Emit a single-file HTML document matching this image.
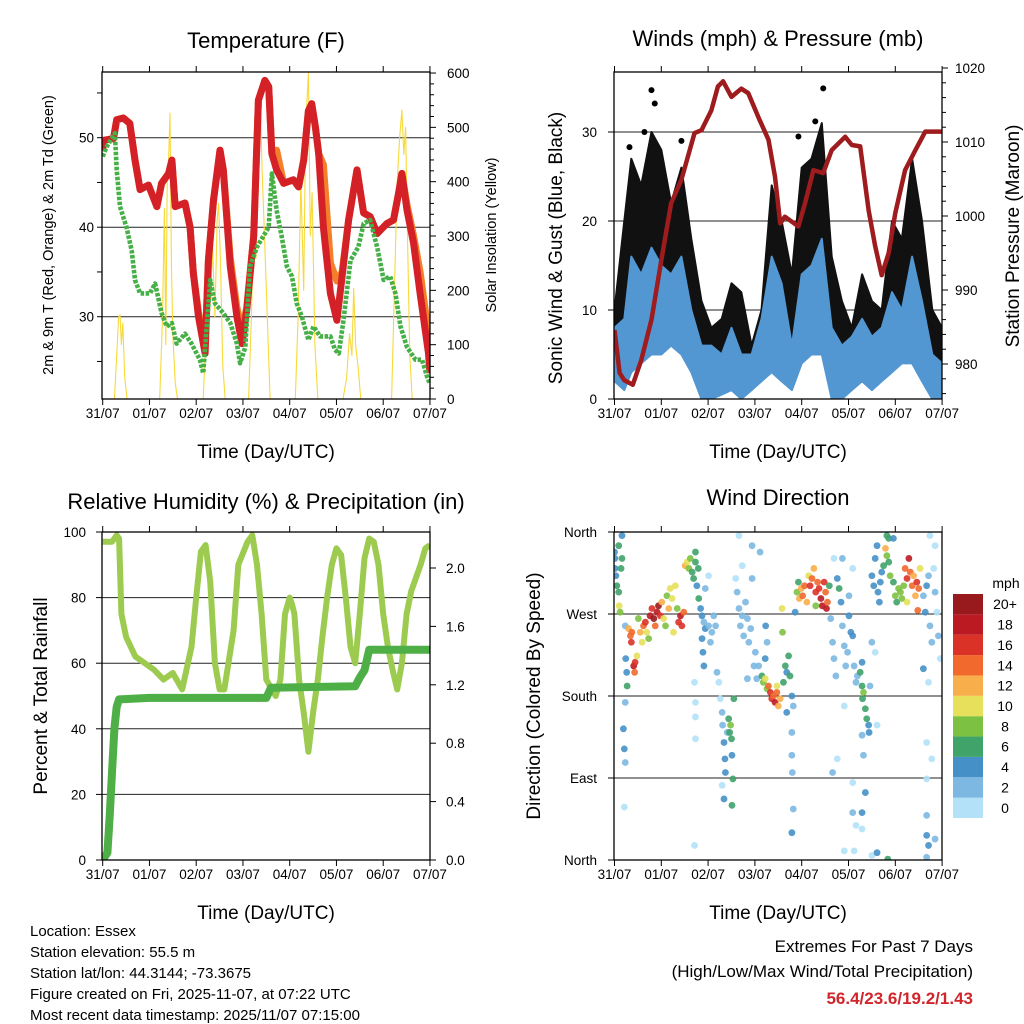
<!DOCTYPE html>
<html><head><meta charset="utf-8"><title>Weather station charts</title>
<style>
html,body{margin:0;padding:0;background:#fff;}
svg{display:block;font-family:"Liberation Sans",Arial,sans-serif;}
</style></head>
<body>
<svg id="chart" width="1024" height="1024" viewBox="0 0 1024 1024" xmlns="http://www.w3.org/2000/svg">
<rect width="1024" height="1024" fill="#fff"/>
<defs>
<clipPath id="cT"><rect x="102" y="72" width="328" height="327"/></clipPath>
<clipPath id="cW"><rect x="614" y="72" width="328" height="327"/></clipPath>
<clipPath id="cR"><rect x="102" y="532" width="328" height="328"/></clipPath>
<clipPath id="cD"><rect x="614" y="532" width="328" height="328"/></clipPath>
</defs>
<text x="266" y="48" font-size="22" text-anchor="middle">Temperature (F)</text>
<text x="778" y="46" font-size="22" text-anchor="middle">Winds (mph) &amp; Pressure (mb)</text>
<text x="266" y="509" font-size="22" text-anchor="middle">Relative Humidity (%) &amp; Precipitation (in)</text>
<text x="778" y="505" font-size="22" text-anchor="middle">Wind Direction</text>
<text x="266" y="458" font-size="19" text-anchor="middle">Time (Day/UTC)</text>
<text x="778" y="458" font-size="19" text-anchor="middle">Time (Day/UTC)</text>
<text x="266" y="919" font-size="19" text-anchor="middle">Time (Day/UTC)</text>
<text x="778" y="919" font-size="19" text-anchor="middle">Time (Day/UTC)</text>
<text transform="translate(53,235) rotate(-90)" font-size="14.5" text-anchor="middle">2m &amp; 9m T (Red, Orange) &amp; 2m Td (Green)</text>
<text transform="translate(496,235) rotate(-90)" font-size="14.5" text-anchor="middle">Solar Insolation (Yellow)</text>
<text transform="translate(562,248) rotate(-90)" font-size="19" text-anchor="middle">Sonic Wind &amp; Gust (Blue, Black)</text>
<text transform="translate(1019,236) rotate(-90)" font-size="19" text-anchor="middle">Station Pressure (Maroon)</text>
<text transform="translate(47,696) rotate(-90)" font-size="19" text-anchor="middle">Percent &amp; Total Rainfall</text>
<text transform="translate(540,696) rotate(-90)" font-size="19" text-anchor="middle">Direction (Colored By Speed)</text>
<g font-size="15">
<text x="30" y="936">Location: Essex</text>
<text x="30" y="957">Station elevation: 55.5 m</text>
<text x="30" y="978">Station lat/lon: 44.3144; -73.3675</text>
<text x="30" y="999">Figure created on Fri, 2025-11-07, at 07:22 UTC</text>
<text x="30" y="1020">Most recent data timestamp: 2025/11/07 07:15:00</text>
</g>
<text x="973" y="952" font-size="17" text-anchor="end">Extremes For Past 7 Days</text>
<text x="973" y="977" font-size="17" text-anchor="end">(High/Low/Max Wind/Total Precipitation)</text>
<text x="973" y="1004" font-size="17" font-weight="bold" fill="#d0262b" text-anchor="end">56.4/23.6/19.2/1.43</text>
<text x="1006" y="588" font-size="14" text-anchor="middle">mph</text>
</svg>
<script>
// ---------- data ----------
const dayLabels = ['31/07','01/07','02/07','03/07','04/07','05/07','06/07','07/07'];
const tempTicks = [30,40,50];
const solarTicks = [0,100,200,300,400,500,600];
const windTicks = [0,10,20,30];
const presTicks = [980,990,1000,1010,1020];
const rhTicks = [0,20,40,60,80,100];
const prcTicks = ['0.0','0.4','0.8','1.2','1.6','2.0'];
const dirTickNames = ['North','East','South','West','North'];
const speedBinLabels = ['0','2','4','6','8','10','12','14','16','18','20+'];
const speedBinColors = ['#b3e2f8','#7cb8e2','#4690c8','#3fa36a','#7dc143','#e6e05a','#f8ae4a','#f1692c','#db3228','#bb1a22','#981a1d'];

const tempT = [0,0.01,0.23,0.30,0.44,0.58,0.69,0.80,0.98,1.16,1.26,1.41,1.48,1.55,1.76,1.87,1.94,2.05,2.19,2.26,2.37,2.51,2.58,2.73,2.87,2.98,3.08,3.23,3.33,3.47,3.55,3.62,3.72,3.87,4.08,4.19,4.30,4.40,4.47,4.55,4.62,4.72,4.87,5.01,5.12,5.26,5.44,5.58,5.72,5.87,6.08,6.22,6.33,6.40,6.51,6.65,6.79,6.97,7.0];
const tempRed = [48.5,49.7,49.9,52,52.2,51.6,47.5,44.2,44.7,42.3,44.9,46,47.5,42.3,42.7,40,34.8,30,25.9,36.3,43,48.6,46.4,35.6,30,27,30.7,39,54.2,56.4,55.7,48.2,46.4,44.9,45.3,44.5,47.5,53,53.8,51.2,48.2,40,32.6,29.6,34.5,40.8,46.4,41.6,41.2,39.3,40.4,40.8,43.8,46,41.9,38.2,32.6,25.9,23.7];
const tempOrange = [48.5,49.7,49.9,52,52.2,51.6,47.5,44.2,44.7,42.3,44.9,46,47.5,42.3,42.7,40,34.8,30.5,26.5,36.3,43,48.6,46.4,36.5,31,28.5,31,39,54.2,56.4,55.7,48.2,48.6,44.9,45.3,44.5,47.5,53,53.8,51.2,48.2,47,36,34,35,40.8,46.4,41.6,41.2,39.3,40.4,40.8,43.8,46,42.5,39,35,28,24.5];
const dewT = [0,0.085,0.26,0.30,0.37,0.51,0.62,0.69,0.80,1.01,1.12,1.26,1.37,1.48,1.58,1.76,1.90,2.08,2.15,2.30,2.40,2.58,2.73,2.87,2.94,3.05,3.15,3.30,3.47,3.55,3.62,3.72,3.83,3.94,4.05,4.15,4.26,4.40,4.51,4.65,4.87,4.97,5.05,5.15,5.30,5.47,5.58,5.72,5.87,6.01,6.15,6.26,6.37,6.51,6.69,6.83,6.94,7.0];
const dew = [47.9,49,50.5,46.4,42.3,40,37.4,34.1,32.6,32.6,33.7,30.4,28.9,29.3,27,28.1,27,25.2,23.7,34.1,31.5,30.4,29.3,27,24.8,26.6,35.6,37.8,39.3,40,46,41.9,38.9,35.6,34.5,31.5,30,27.4,28.9,27.8,27.8,26.3,25.9,29.6,36.3,37.8,40.4,40.8,37.8,34.1,34.5,32.6,28.9,26.6,25.2,25.2,23.3,22.5];
const solarT = [0,0.25,0.30,0.34,0.37,0.40,0.43,0.47,0.52,1.22,1.28,1.32,1.35,1.38,1.41,1.44,1.47,1.50,1.55,1.60,2.15,2.20,2.25,2.30,2.35,2.40,2.45,2.48,2.52,2.57,2.62,3.12,3.18,3.24,3.28,3.32,3.37,3.41,3.46,3.52,3.58,4.12,4.18,4.24,4.30,4.34,4.40,4.44,4.48,4.54,4.60,5.14,5.22,5.28,5.33,5.37,5.41,5.46,5.52,6.18,6.24,6.30,6.35,6.40,6.44,6.48,6.52,6.57,6.62,7.0];
const solar = [0,0,80,150,155,100,140,40,0,0,150,350,100,400,440,526,250,120,30,0,0,100,200,180,280,150,330,360,250,60,0,0,150,380,260,500,563,420,300,150,0,0,150,400,200,500,600,300,380,100,0,0,40,120,80,204,100,60,0,0,200,400,480,532,450,500,300,80,0,0];

const windT = [0,0.21,0.36,0.57,0.79,1.0,1.21,1.43,1.64,1.86,2.07,2.29,2.5,2.71,2.93,3.14,3.36,3.57,3.79,4.0,4.21,4.43,4.64,4.86,5.07,5.29,5.5,5.71,5.93,6.14,6.36,6.57,6.79,7.0];
const windLo = [2,1,3,4,5,5,6,5,3,0,0,0.5,1,0,1,2,3,2,1,4,5,5,0,0,1,2,1,2,3,4,4,2,0,0];
const windHi = [8,9,16,14,17,15,14,16,10,6,6,5,8,5,5,9,16,13,6,14,15,18,8,6,7,9,7,8,12,10,16,11,5,4];
const gustHi = [10,20,27,24,30,28,22,26,18,11,8,9,13,12,6,10,24,20,14,26,27,31,16,11,8,14,11,10,20,18,27,20,10,8];
const gustOutT = [0.79,0.86,4.46,4.29,0.64,1.43,3.93,0.32];
const gustOutV = [34.7,33.2,34.9,31.2,30,29,29.5,28.3];
const presT = [0,0.11,0.21,0.39,0.57,0.79,1.0,1.21,1.43,1.71,1.86,2.07,2.21,2.32,2.5,2.71,2.86,3.07,3.29,3.43,3.54,3.64,3.93,4.07,4.25,4.46,4.64,4.93,5.07,5.25,5.43,5.57,5.71,5.86,6.0,6.21,6.43,6.64,7.0];
const pres = [984.6,978.8,977.8,977.2,980.5,986,994,1001.7,1004.9,1011.2,1011.6,1014.3,1017.5,1018.2,1016.1,1017.2,1016.6,1013.4,1010.3,1005.3,999,999.9,998.6,1001.7,1006.2,1005.8,1008.9,1010.7,1009.6,1009.4,1000.8,995.9,992,995,1000.4,1006.2,1008.9,1011.4,1011.4];

const rhT = [0,0.2,0.3,0.35,0.4,0.5,0.7,0.9,1.1,1.3,1.5,1.7,1.9,2.0,2.1,2.2,2.3,2.4,2.5,2.6,2.8,2.9,3.1,3.2,3.3,3.4,3.5,3.7,3.8,3.9,4.0,4.05,4.1,4.2,4.3,4.4,4.5,4.6,4.7,4.8,4.9,5.0,5.1,5.2,5.3,5.4,5.5,5.6,5.7,5.8,5.9,6.0,6.1,6.2,6.3,6.4,6.5,6.6,6.8,6.9,7.0];
const rh = [97,97,99,98,75,68,62,60,58,55,57,52,65,80,94,96,85,60,52,52,70,90,97,99,90,75,55,50,55,75,80,78,75,55,45,33,45,55,68,80,90,95,93,80,65,60,75,92,98,97,90,75,65,58,52,60,75,82,90,95,96];
const prcT = [0,0.1,0.15,0.2,0.25,0.3,0.35,1.0,3.5,3.6,5.4,5.5,5.6,5.7,7.0];
const prc = [0,0.05,0.3,0.6,0.9,1.05,1.1,1.11,1.11,1.18,1.19,1.25,1.3,1.44,1.44];

const dirT = [0,0.01,0.03,0.05,0.09,0.10,0.12,0.14,0.16,0.01,0.09,0.16,0.23,0.19,0.21,0.23,0.21,
0.23,0.24,0.26,0.27,0.30,0.34,0.36,0.37,0.41,0.43,0.44,0.48,0.51,0.55,0.59,0.62,0.66,0.69,0.73,
0.76,0.80,0.84,0.87,0.91,0.94,0.98,1.01,1.05,1.09,1.12,1.16,1.19,1.23,1.26,1.30,1.34,1.37,1.41,1.44,1.48,1.51,1.55,1.59,
1.62,1.66,1.69,1.73,1.76,1.79,1.73,
1.80,1.84,1.87,1.91,1.94,1.87,1.89,1.91,2.01,2.05,2.08,2.12,2.16,2.19,2.23,1.94,2.01,1.71,1.73,1.73,1.73,1.71,
2.26,2.30,2.31,2.34,2.36,2.37,2.41,2.44,2.46,2.48,2.50,2.51,2.53,2.55,2.51,2.30,2.34,
2.59,2.62,2.66,2.69,2.73,2.76,2.80,2.84,2.87,2.91,2.94,2.98,3.01,3.08,3.11,2.73,2.66,2.94,3.04,2.84,
3.15,3.18,3.22,3.26,3.29,3.33,3.36,3.40,3.43,3.47,3.50,3.54,3.47,3.23,3.26,3.22,
3.58,3.59,3.61,3.65,3.68,3.72,3.75,3.79,3.82,3.68,3.79,3.79,3.80,3.82,3.79,
3.86,3.90,3.93,3.95,3.99,4.02,4.06,4.11,4.15,4.18,4.22,4.26,4.30,4.34,4.37,4.41,4.44,4.48,4.51,4.53,4.55,4.30,4.59,
4.62,4.66,4.69,4.73,4.76,4.80,4.84,4.87,4.91,4.94,4.98,5.01,5.05,5.09,5.01,4.87,5.09,4.69,4.91,4.76,4.66,5.12,5.16,5.19,5.09,5.09,5.16,4.91,5.12,
5.25,5.29,5.30,5.32,5.36,5.39,5.43,5.44,5.29,5.32,5.29,5.36,5.29,5.46,5.50,5.57,5.61,5.29,5.50,5.61,
5.50,5.54,5.57,5.61,5.63,5.66,5.68,5.71,5.75,5.79,5.82,5.86,5.89,5.86,5.82,5.96,5.84,
5.96,6.00,6.03,6.07,6.11,6.14,6.18,6.21,6.25,6.29,6.32,6.36,6.39,6.43,6.46,6.50,6.53,6.48,6.25,
6.60,6.64,6.67,6.71,6.74,6.78,6.82,6.85,6.89,6.92,6.96,6.85,6.74,6.71,6.60,6.67,6.78,6.67,6.67,6.67,6.71,6.85,6.67];
const dirDeg = [338,331,312,301,294,279,272,320,331,320,345,356,173,144,122,107,58,
257,221,206,191,254,246,239,250,213,206,217,224,265,250,239,257,261,250,243,
268,276,265,257,272,279,268,283,265,257,290,276,298,287,250,301,276,261,268,257,272,323,327,320,
331,316,309,327,301,320,338,
287,276,268,261,254,243,228,213,257,239,250,268,257,206,195,298,312,195,173,157,133,16,
177,162,148,129,111,96,140,155,140,148,133,115,89,177,60,82,67,
309,294,276,257,268,246,283,265,239,254,309,213,228,213,338,323,356,345,199,199,
202,195,199,188,191,184,177,180,173,184,169,177,191,257,239,221,
276,250,195,213,206,224,202,180,169,162,140,115,96,56,30,
272,294,305,287,298,290,301,283,312,301,309,320,294,305,298,287,279,305,294,276,283,279,301,
265,239,221,202,309,298,283,257,235,213,228,268,250,246,290,331,320,331,169,111,96,213,195,202,85,52,38,10,10,
206,191,177,184,166,155,148,140,217,115,137,74,52,191,239,228,148,34,5,8,
312,301,331,345,294,283,305,316,323,342,334,327,312,353,356,353,1,
305,290,283,298,294,287,301,320,309,331,316,301,312,290,305,298,320,274,283,
290,272,301,312,257,239,320,294,272,246,221,345,356,195,210,129,111,89,49,27,16,23,3];
const dirSpd = [4,4,5,6,7,10,9,6,6,5,6,4,3,4,4,2,1,
2,4,5,6,12,14,16,15,18,14,16,10,8,12,11,14,16,10,8,
18,16,20,15,18,20,16,12,10,8,8,12,10,11,10,10,8,16,18,17,14,12,10,8,
9,7,6,7,4,6,6,
6,4,5,3,4,5,4,4,3,3,3,2,3,2,1,2,1,1,1,0,0,0,
1,2,3,4,4,5,3,6,7,8,6,4,6,6,6,1,4,
1,2,2,3,3,2,3,2,3,2,2,3,2,2,3,1,1,3,2,2,
6,9,10,8,14,16,17,15,18,14,13,12,10,4,3,4,
10,8,7,6,5,7,6,4,3,4,2,2,2,3,4,
4,8,7,13,12,15,14,12,10,16,15,12,16,14,17,18,18,16,15,18,14,8,6,
2,2,3,2,4,6,4,3,3,2,2,4,4,5,2,2,1,1,1,1,2,2,2,2,1,2,1,1,1,
7,7,6,8,6,6,5,4,4,3,3,4,4,2,2,1,1,1,1,4,
4,4,5,5,5,4,4,5,6,12,9,7,8,7,6,4,6,
7,8,6,9,8,9,8,14,16,18,15,14,12,13,16,14,10,15,10,
3,4,4,2,2,2,1,2,1,2,1,1,1,1,4,1,1,1,3,4,4,2,2];

// ---------- helpers ----------
const NS = 'http://www.w3.org/2000/svg';
const svg = document.getElementById('chart');
function mk(tag, parent) { const e = document.createElementNS(NS, tag); (parent || svg).appendChild(e); return e; }
function setA(e, o) { for (const k in o) e.setAttribute(k, o[k]); return e; }
function pathD(xs, ys) { let d = ''; for (let i = 0; i < xs.length; i++) d += (i ? 'L' : 'M') + xs[i].toFixed(1) + ',' + ys[i].toFixed(1); return d; }

const xT = d => 102.7 + d * 46.75;
const xW = d => 614.5 + d * 46.8;
const yTemp = t => 316.7 - (t - 30) * 8.95;
const ySolar = s => 399 - s * 0.5433;
const yWind = v => 399 - v * 8.9;
const yPres = p => 364 - (p - 980) * 7.4;
const yRH = r => 860 - r * 3.28;
const yPrc = p => 860 - p * 146;
const yDir = a => 860 - a / 360 * 328;

function frame(x0, y0, x1, y1, name) {
  const r = mk('rect');
  setA(r, {x: x0, y: y0, width: x1 - x0, height: y1 - y0, fill: 'none', stroke: '#000', 'stroke-width': 1.3});
  
  
}
function hgrid(x0, x1, y) {
  const l = mk('line');
  setA(l, {x1: x0, x2: x1, y1: y, y2: y, stroke: '#222', 'stroke-width': 1});
  
  
}
function tick(x1, y1, x2, y2) {
  const l = mk('line');
  setA(l, {x1: x1, y1: y1, x2: x2, y2: y2, stroke: '#000', 'stroke-width': 1});
  
  
}
function label(x, y, s, anchor, size) {
  const t = mk('text');
  setA(t, {x: x, y: y, 'font-size': size || 13.5, 'text-anchor': anchor || 'middle'});
  t.textContent = s;
  
  
  return t;
}
function line(xs, ys, color, w, clip, name, dash) {
  const p = mk('path');
  setA(p, {d: pathD(xs, ys), fill: 'none', stroke: color, 'stroke-width': w, 'stroke-linejoin': 'round', 'clip-path': 'url(#' + clip + ')'});
  if (dash) p.setAttribute('stroke-dasharray', dash);
  
  
  return p;
}
function band(xs, lo, hi, color, clip, name) {
  const X = xs.concat(xs.slice().reverse());
  const Y = hi.concat(lo.slice().reverse());
  const p = mk('path');
  setA(p, {d: pathD(X, Y) + 'Z', fill: color, stroke: color, 'stroke-width': 2, 'stroke-linejoin': 'round', 'clip-path': 'url(#' + clip + ')'});
  
  
}
function xAxis(xf, yb, ytop, labY) {
  dayLabels.forEach((s, i) => {
    tick(xf(i), yb, xf(i), yb + 6);
    tick(xf(i), ytop, xf(i), ytop - 6);
    label(xf(i), labY, s, 'middle', 13.5);
  });
}

// ---------- Temperature panel ----------
tempTicks.forEach(t => hgrid(102, 430, yTemp(t)));
for (let t = 25; t <= 55; t += 5) tick(102, yTemp(t), 97, yTemp(t));
tempTicks.forEach(t => label(94, yTemp(t) + 5, String(t), 'end'));
for (let s = 0; s <= 600; s += 20) tick(430, ySolar(s), s % 100 ? 434 : 436, ySolar(s));
solarTicks.forEach(s => label(447, ySolar(s) + 5, String(s), 'start'));
line(solarT.map(xT), solar.map(ySolar), '#f7d93a', 1.1, 'cT', 'solar-insolation-line');
line(tempT.map(xT), tempOrange.map(yTemp), '#f47f2a', 7, 'cT', 'temp-9m-orange-line');
line(tempT.map(xT), tempRed.map(yTemp), '#d42127', 7, 'cT', 'temp-2m-red-line');
line(dewT.map(xT), dew.map(yTemp), '#45b046', 4.6, 'cT', 'dewpoint-green-line', '3.5 1.5');
frame(102, 72, 430, 399, 'temperature-plot-frame');
xAxis(xT, 399, 72, 418);

// ---------- Winds panel ----------
windTicks.forEach(v => hgrid(614, 942, yWind(v)));
windTicks.forEach(v => { tick(614, yWind(v), 608, yWind(v)); label(597, yWind(v) + 5, String(v), 'end'); });
for (let p = 976; p <= 1020; p += 2) tick(942, yPres(p), p % 10 ? 946 : 948, yPres(p));
presTicks.forEach(p => label(955, yPres(p) + 5, String(p), 'start'));
band(windT.map(xW), windHi.map(yWind), gustHi.map(yWind), '#111', 'cW', 'gust-black-band');
gustOutT.forEach((t, i) => {
  const c = mk('circle');
  setA(c, {cx: xW(t), cy: yWind(gustOutV[i]), r: 3, fill: '#000', 'clip-path': 'url(#cW)'});
  
  
});
band(windT.map(xW), windLo.map(yWind), windHi.map(yWind), '#5397d2', 'cW', 'wind-blue-band');
line(presT.map(xW), pres.map(yPres), '#9e1b1e', 4.5, 'cW', 'pressure-maroon-line');
frame(614, 72, 942, 399, 'winds-plot-frame');
xAxis(xW, 399, 72, 418);

// ---------- RH panel ----------
[20, 40, 60, 80].forEach(r => hgrid(102, 430, yRH(r)));
rhTicks.forEach(r => { tick(102, yRH(r), 96, yRH(r)); label(86, yRH(r) + 5, String(r), 'end'); });
prcTicks.forEach(p => { tick(430, yPrc(+p), 436, yPrc(+p)); label(446, yPrc(+p) + 5, p, 'start'); });
line(rhT.map(xT), rh.map(yRH), '#9ccb50', 6, 'cR', 'relative-humidity-line');
line(prcT.map(xT), prc.map(yPrc), '#4daf45', 8, 'cR', 'precipitation-line');
frame(102, 532, 430, 860, 'humidity-plot-frame');
xAxis(xT, 860, 532, 879);

// ---------- Wind direction panel ----------
[0, 90, 180, 270, 360].forEach((a, i) => {
  hgrid(614, 942, yDir(a));
  tick(614, yDir(a), 608, yDir(a));
  label(597, yDir(a) + 5, dirTickNames[i], 'end', 13.5);
});
dirT.forEach((t, i) => {
  const bin = Math.min(10, Math.floor(dirSpd[i] / 2));
  const c = mk('circle');
  setA(c, {cx: xW(t), cy: yDir(dirDeg[i]), r: 3.4, fill: speedBinColors[bin], 'fill-opacity': 0.9, 'clip-path': 'url(#cD)'});
  
  
});
frame(614, 532, 942, 860, 'direction-plot-frame');
xAxis(xW, 860, 532, 879);

// colorbar: 11 swatches from y 594 to 818
speedBinLabels.forEach((s, i) => {
  const h = 224 / 11;
  const y0 = 818 - (i + 1) * h;
  const r = mk('rect');
  setA(r, {x: 953, y: y0, width: 30, height: h, fill: speedBinColors[i]});
  
  
  label(1005, y0 + h / 2 + 5, s, 'middle', 14);
});
</script>
</body></html>
